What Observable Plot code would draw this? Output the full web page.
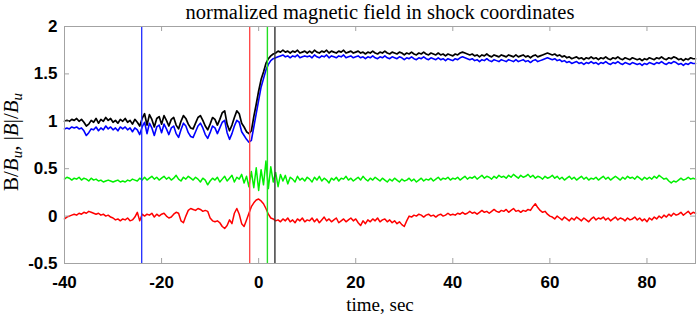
<!DOCTYPE html>
<html><head><meta charset="utf-8">
<script src="https://cdn.jsdelivr.net/npm/d3@7"></script>
<script src="https://cdn.jsdelivr.net/npm/@observablehq/plot@0.6"></script>
<style>body{margin:0;background:#fff} svg{display:block}</style>
</head><body><div id="chart"></div>
<script>
// sampling grid: t = -40 s ... 90 s, every 0.5 s
const tStart = -40, tStep = 0.5;

// |B|/Bu (black)
const magTotal = [
1.00,1.01,1.00,1.02,1.01,1.03,1.00,1.02,0.99,0.95,0.97,1.01,0.99,1.03,0.98,1.02,1.00,1.04,1.01,1.03,
0.99,1.01,0.98,1.02,1.00,1.03,0.99,1.01,0.97,1.02,0.99,0.95,1.03,1.08,0.96,1.07,1.02,0.94,1.03,1.05,
0.97,1.06,1.01,0.95,1.02,1.04,0.96,0.92,1.00,1.06,1.03,0.97,0.93,0.92,0.98,1.04,1.06,1.01,0.95,0.91,
0.97,1.04,1.02,0.96,1.02,1.09,1.11,0.97,0.90,0.96,1.04,1.11,1.08,0.98,0.94,0.89,0.87,0.90,1.05,1.18,
1.32,1.44,1.52,1.61,1.66,1.69,1.71,1.72,1.74,1.73,1.75,1.73,1.74,1.72,1.74,1.73,1.75,1.72,1.73,1.74,1.72,
1.74,1.72,1.75,1.73,1.72,1.74,1.73,1.75,1.72,1.74,1.73,1.72,1.74,1.73,1.75,1.72,1.73,1.74,1.72,1.73,
1.74,1.72,1.73,1.71,1.73,1.72,1.74,1.72,1.71,1.73,1.72,1.74,1.72,1.71,1.73,1.72,1.71,1.73,1.72,1.70,
1.72,1.71,1.73,1.71,1.70,1.72,1.71,1.73,1.71,1.70,1.72,1.71,1.70,1.72,1.70,1.71,1.69,1.71,1.70,1.69,
1.71,1.70,1.72,1.73,1.72,1.71,1.70,1.71,1.69,1.70,1.68,1.70,1.69,1.71,1.69,1.68,1.70,1.69,1.68,1.70,
1.69,1.68,1.70,1.69,1.68,1.70,1.68,1.69,1.70,1.68,1.69,1.67,1.69,1.70,1.68,1.69,1.70,1.71,1.72,1.71,
1.70,1.71,1.69,1.70,1.68,1.69,1.67,1.68,1.66,1.67,1.68,1.66,1.67,1.65,1.67,1.66,1.68,1.66,1.67,1.65,
1.67,1.66,1.68,1.66,1.65,1.67,1.66,1.68,1.66,1.65,1.67,1.66,1.65,1.67,1.66,1.65,1.66,1.64,1.66,1.65,
1.67,1.66,1.65,1.67,1.66,1.68,1.66,1.65,1.67,1.66,1.68,1.67,1.65,1.66,1.64,1.66,1.65,1.67,1.66,1.66
];

// B component 1 (blue)
const compBlue = [
0.92,0.93,0.92,0.94,0.93,0.94,0.92,0.93,0.90,0.85,0.88,0.92,0.91,0.94,0.90,0.93,0.91,0.95,0.92,0.94,
0.91,0.93,0.90,0.94,0.92,0.94,0.91,0.93,0.89,0.93,0.91,0.86,0.94,0.99,0.87,0.98,0.93,0.85,0.94,0.96,
0.88,0.97,0.92,0.86,0.93,0.95,0.87,0.83,0.91,0.98,0.95,0.88,0.84,0.83,0.89,0.95,0.98,0.93,0.86,0.82,
0.88,0.95,0.93,0.87,0.93,0.99,1.01,0.88,0.81,0.87,0.95,1.01,0.99,0.89,0.85,0.81,0.78,0.80,0.94,1.08,
1.22,1.36,1.45,1.54,1.60,1.64,1.66,1.67,1.68,1.69,1.70,1.68,1.69,1.67,1.69,1.68,1.70,1.67,1.68,1.69,1.68,
1.69,1.67,1.70,1.68,1.67,1.69,1.68,1.70,1.67,1.69,1.68,1.67,1.69,1.68,1.70,1.67,1.68,1.69,1.67,1.68,
1.69,1.67,1.68,1.66,1.68,1.67,1.69,1.67,1.66,1.68,1.67,1.69,1.67,1.66,1.68,1.67,1.66,1.68,1.67,1.65,
1.67,1.66,1.68,1.66,1.65,1.67,1.66,1.68,1.66,1.65,1.67,1.66,1.65,1.67,1.65,1.66,1.64,1.66,1.65,1.64,
1.66,1.65,1.67,1.68,1.67,1.66,1.65,1.66,1.64,1.65,1.63,1.65,1.64,1.66,1.64,1.63,1.65,1.64,1.63,1.65,
1.64,1.63,1.65,1.64,1.63,1.65,1.63,1.64,1.65,1.63,1.64,1.62,1.64,1.65,1.63,1.64,1.65,1.66,1.67,1.66,
1.65,1.66,1.64,1.65,1.63,1.64,1.62,1.63,1.61,1.62,1.63,1.61,1.62,1.60,1.62,1.61,1.63,1.61,1.62,1.60,
1.62,1.61,1.63,1.61,1.60,1.62,1.61,1.63,1.61,1.60,1.62,1.61,1.60,1.62,1.61,1.60,1.61,1.59,1.61,1.60,
1.62,1.61,1.60,1.62,1.61,1.63,1.61,1.60,1.62,1.61,1.63,1.62,1.60,1.61,1.59,1.61,1.60,1.62,1.61,1.61
];

// B component 2 (green)
const compGreen = [
0.39,0.41,0.40,0.38,0.40,0.39,0.41,0.38,0.40,0.39,0.37,0.40,0.38,0.39,0.37,0.38,0.36,0.37,0.38,0.37,
0.36,0.37,0.38,0.36,0.37,0.36,0.38,0.37,0.39,0.38,0.37,0.40,0.38,0.41,0.38,0.40,0.42,0.39,0.41,0.38,
0.40,0.42,0.39,0.41,0.38,0.40,0.43,0.39,0.37,0.41,0.39,0.42,0.40,0.38,0.41,0.39,0.36,0.40,0.38,0.33,
0.37,0.40,0.38,0.41,0.36,0.39,0.42,0.37,0.40,0.43,0.36,0.41,0.39,0.44,0.35,0.42,0.31,0.47,0.30,0.51,
0.27,0.49,0.33,0.58,0.29,0.52,0.36,0.46,0.31,0.44,0.37,0.43,0.34,0.41,0.39,0.36,0.42,0.38,0.40,0.37,0.41,
0.39,0.36,0.41,0.38,0.42,0.37,0.40,0.38,0.35,0.40,0.38,0.41,0.37,0.40,0.39,0.42,0.38,0.40,0.37,0.39,
0.41,0.38,0.42,0.39,0.37,0.40,0.38,0.41,0.39,0.37,0.40,0.38,0.36,0.39,0.37,0.40,0.38,0.36,0.39,0.37,
0.38,0.40,0.37,0.39,0.36,0.38,0.40,0.37,0.39,0.38,0.40,0.37,0.39,0.41,0.38,0.40,0.39,0.41,0.38,0.40,
0.39,0.41,0.38,0.40,0.42,0.39,0.41,0.40,0.42,0.39,0.41,0.43,0.40,0.42,0.41,0.39,0.42,0.40,0.43,0.41,
0.42,0.40,0.43,0.41,0.44,0.42,0.40,0.43,0.41,0.42,0.44,0.41,0.43,0.40,0.42,0.41,0.39,0.42,0.40,0.41,
0.43,0.40,0.42,0.39,0.41,0.38,0.40,0.42,0.39,0.41,0.38,0.40,0.42,0.39,0.41,0.38,0.40,0.39,0.41,0.38,
0.40,0.42,0.39,0.41,0.38,0.40,0.42,0.40,0.38,0.41,0.39,0.42,0.40,0.41,0.39,0.42,0.40,0.38,0.41,0.39,
0.41,0.39,0.42,0.40,0.43,0.41,0.39,0.40,0.37,0.35,0.37,0.36,0.38,0.40,0.38,0.39,0.41,0.39,0.40,0.39
];

// B component 3 (red)
const compRed = [
-0.03,-0.01,0.00,0.01,0.02,0.01,0.03,0.02,0.04,0.03,0.05,0.04,0.03,0.02,0.03,0.01,0.02,0.00,0.01,-0.01,
-0.02,-0.04,-0.03,-0.05,-0.03,-0.04,-0.02,-0.05,-0.04,-0.01,0.04,-0.05,0.02,0.00,0.02,0.01,0.03,-0.01,0.02,0.00,
0.02,0.03,0.00,-0.02,-0.01,0.02,0.04,0.03,-0.05,-0.07,0.00,0.06,0.08,0.07,0.06,0.08,0.07,0.05,0.06,0.05,
-0.02,-0.05,-0.06,-0.05,-0.07,-0.11,-0.13,-0.10,-0.04,-0.08,0.03,0.08,0.02,-0.08,-0.11,-0.04,0.03,0.10,0.14,0.17,
0.18,0.16,0.13,0.08,0.02,-0.02,-0.03,-0.05,-0.04,-0.06,-0.03,-0.05,-0.02,-0.06,-0.04,-0.07,-0.03,-0.05,-0.02,-0.06,-0.04,
-0.05,-0.02,-0.06,-0.03,-0.07,-0.04,-0.01,-0.05,-0.03,-0.06,-0.04,-0.02,-0.07,-0.05,-0.03,-0.06,-0.04,-0.02,-0.05,-0.03,
-0.07,-0.10,-0.05,-0.08,-0.04,-0.06,-0.03,-0.05,-0.02,-0.06,-0.04,-0.03,-0.06,-0.04,-0.07,-0.05,-0.08,-0.06,-0.09,-0.11,
-0.05,0.00,-0.01,0.01,0.00,0.02,0.01,-0.01,0.01,0.02,0.00,0.01,-0.01,0.01,0.02,0.00,0.01,0.03,0.01,0.02,
0.01,0.03,0.02,0.04,0.02,0.03,0.05,0.03,0.04,0.02,0.04,0.06,0.04,0.05,0.03,0.05,0.07,0.05,0.04,0.06,
0.05,0.07,0.04,0.06,0.08,0.05,0.06,0.04,0.06,0.05,0.07,0.06,0.10,0.13,0.09,0.06,0.04,0.05,0.02,0.00,
-0.01,-0.03,0.00,-0.02,-0.04,-0.01,-0.03,-0.05,-0.02,-0.04,-0.01,-0.03,-0.05,-0.02,-0.04,-0.06,-0.03,-0.01,-0.04,-0.02,
-0.03,-0.01,-0.04,-0.02,-0.05,-0.03,-0.01,-0.04,-0.02,-0.03,-0.05,-0.02,-0.04,-0.03,-0.01,-0.04,-0.02,-0.05,-0.03,-0.06,
-0.02,-0.04,-0.01,-0.03,0.00,-0.02,0.01,-0.01,0.02,0.00,0.03,0.01,0.02,0.04,0.01,0.03,0.05,0.02,0.04,0.03
];

// vertical marker lines
const markerTimes = [-24.1, -1.85, 1.8, 3.35];
const markerColors = ["#2a35ff", "#ff4a4a", "#22e022", "#333333"];

const xTicks = [-40, -20, 0, 20, 40, 60, 80];
const yTicks = [-0.5, 0, 0.5, 1, 1.5, 2];
const titleText = "normalized magnetic field in shock coordinates";
const xLabelText = "time, sec";
// y label pieces: [text, style]
const yLabelParts = [["B","up"],["/",""],["B","it"],["u","sub"],[", |",""],["B","it"],["|/",""],["B","it"],["u","sub"]];

const W = 699, H = 314, mL = 64, mR = 4, mT = 26, mB = 51;
const innerW = W - mL - mR, innerH = H - mT - mB, tickLen = 5;
const frameColor = "#a3a3a3";

const toRows = vals => vals.map((v, i) => ({t: tStart + i * tStep, v}));
const markers = markerTimes.map((t, i) => ({t, c: markerColors[i]}));
const numFmt = d => String(d);

const plot = Plot.plot({
  width: W, height: H,
  marginLeft: mL, marginRight: mR, marginTop: mT, marginBottom: mB,
  x: {domain: [-40, 90]},
  y: {domain: [-0.5, 2]},
  style: {background: "#fff", overflow: "visible"},
  marks: [
    Plot.line(toRows(compBlue), {x: "t", y: "v", stroke: "#0000ff", strokeWidth: 1.6}),
    Plot.line(toRows(magTotal), {x: "t", y: "v", stroke: "#000000", strokeWidth: 1.7}),
    Plot.line(toRows(compGreen), {x: "t", y: "v", stroke: "#00f000", strokeWidth: 1.5}),
    Plot.line(toRows(compRed), {x: "t", y: "v", stroke: "#ff0000", strokeWidth: 1.5}),
    Plot.ruleX(markers, {x: "t", stroke: "c", strokeWidth: 1.4}),
    Plot.frame({stroke: frameColor}),
    Plot.ruleX(xTicks, {x: d => d, insetTop: innerH - tickLen, stroke: frameColor}),
    Plot.ruleX(xTicks, {x: d => d, insetBottom: innerH - tickLen, stroke: frameColor}),
    Plot.ruleY(yTicks, {y: d => d, insetRight: innerW - tickLen, stroke: frameColor}),
    Plot.ruleY(yTicks, {y: d => d, insetLeft: innerW - tickLen, stroke: frameColor}),
    Plot.axisX(xTicks, {tickSize: 0, tickPadding: 12, tickFormat: numFmt, fontSize: 17, fontWeight: "bold", fontFamily: "Liberation Sans", fill: "#000", label: null}),
    Plot.axisY(yTicks, {tickSize: 0, tickPadding: 7, tickFormat: numFmt, fontSize: 17, fontWeight: "bold", fontFamily: "Liberation Sans", fill: "#000", label: null}),
    Plot.text([titleText], {text: d => d, frameAnchor: "top", dy: -8, lineAnchor: "bottom", fontSize: 20.5, fontFamily: "Liberation Serif", fill: "#000"}),
    Plot.text([xLabelText], {text: d => d, frameAnchor: "bottom", dy: 47, lineAnchor: "bottom", fontSize: 19, fontFamily: "Liberation Serif", fill: "#000"})
  ]
});

const svg = d3.select(plot);
const yl = svg.append("text")
  .attr("transform", `translate(18,142) rotate(-90)`)
  .attr("text-anchor", "middle")
  .attr("font-family", "Liberation Serif")
  .attr("font-size", 21)
  .attr("fill", "#000");
let shifted = false;
for (const [txt, st] of yLabelParts) {
  const ts = yl.append("tspan").text(txt);
  if (st === "it" || st === "sub") ts.attr("font-style", "italic");
  if (st === "sub") { ts.attr("font-size", 15).attr("dy", 4); shifted = true; }
  else if (shifted) { ts.attr("dy", -4); shifted = false; }
}
document.getElementById("chart").appendChild(plot);
</script>
</body></html>
